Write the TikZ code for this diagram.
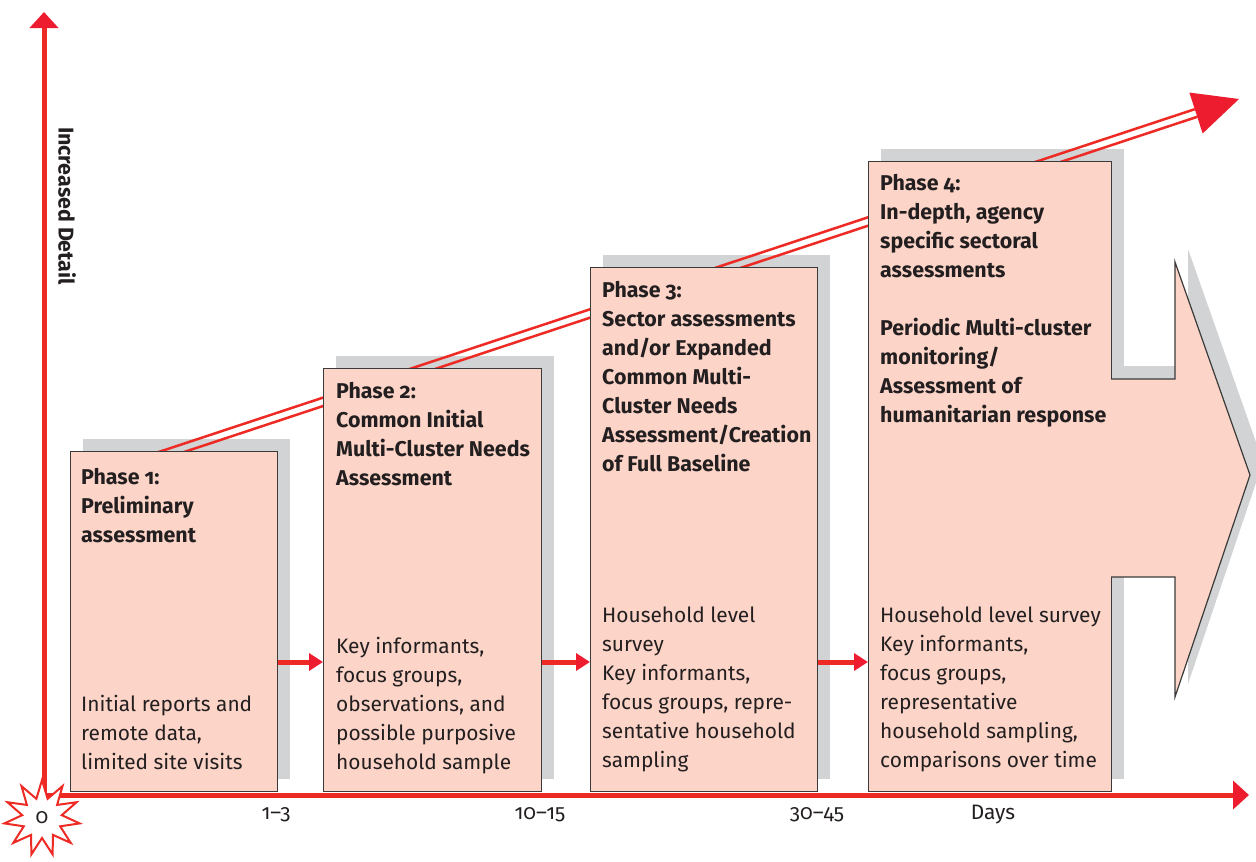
\documentclass[tikz,border=0pt]{standalone}
\usepackage{fontspec}
\setmainfont{Fira Sans}[Numbers=OldStyle]
\usetikzlibrary{arrows.meta,shapes.geometric,calc}

\definecolor{axisred}{HTML}{EE2A24}
\definecolor{tipred}{HTML}{ED1C2E}
\definecolor{boxpink}{HTML}{FDD5C8}
\definecolor{shadowgray}{HTML}{D1D3D4}
\definecolor{boxline}{HTML}{3A3A3A}
\definecolor{ink}{HTML}{231F20}

\tikzset{
  phasebox/.style={draw=boxline, line width=1.3pt, fill=boxpink, anchor=south west, inner sep=0pt},
  headtext/.style={anchor=north west, align=left, inner sep=0pt, text=ink,
    font=\fontsize{21.4}{29}\selectfont\bfseries, execute at begin node=\strut},
  basetext/.style={anchor=south west, align=left, inner sep=0pt, text=ink,
    font=\fontsize{20.9}{29}\selectfont, execute at end node=\strut},
  axisarrow/.style={axisred, line width=5pt, -{Triangle[length=16pt,width=28pt,color=tipred]}},
  hoparrow/.style={axisred, line width=5pt, -{Triangle[length=14pt,width=17pt,color=tipred]}},
  riseline/.style={axisred, line width=2.5pt},
  daylabel/.style={text=ink, font=\fontsize{20.9}{24}\selectfont},
}

\begin{document}
\begin{tikzpicture}[x=1pt,y=-1pt]
    \useasboundingbox (0,0) rectangle (1256,862);

    \fill[shadowgray] (83,439) rectangle (290,779);
    \fill[shadowgray] (336,356) rectangle (554,779);
    \fill[shadowgray] (603,255) rectangle (830,779);
    \fill[shadowgray] (881,149) rectangle (1124,779);
    \fill[shadowgray] (1124,366) -- (1188,366) -- (1188,249) -- (1263,462)
        -- (1188,684) -- (1188,564) -- (1124,564) -- cycle;

    \coordinate (origin) at (44,795);
    \coordinate (ytop) at (44,12);
    \coordinate (xend) at (1249,795);
    \draw[axisarrow] (origin) -- (ytop);
    \draw[axisarrow] (origin) -- (xend);

    \coordinate (riseA) at (120,469);
    \coordinate (riseB) at (1196,113);
    \coordinate (riseC) at (1239,99);
    \draw[riseline] ($(riseA)!4pt!90:(riseB)$) -- ($(riseB)!4pt!-90:(riseA)$);
    \draw[riseline] ($(riseA)!4pt!-90:(riseB)$) -- ($(riseB)!4pt!90:(riseA)$);
    \fill[tipred] (riseC) -- ($(riseB)!21.5pt!90:(riseC)$) -- ($(riseB)!21.5pt!-90:(riseC)$) -- cycle;

    \node[phasebox, minimum width=207pt, minimum height=340pt] (p1) at (70,792) {};
    \node[phasebox, minimum width=218pt, minimum height=423pt] (p2) at (323,792) {};
    \node[phasebox, minimum width=227pt, minimum height=524pt] (p3) at (590,792) {};
    \node[phasebox, minimum width=243pt, minimum height=630pt] (p4) at (868,792) {};
    \filldraw[draw=boxline, line width=1.2pt, fill=boxpink] (1111,379) -- (1175,379) -- (1175,262)
        -- (1250,475) -- (1175,697) -- (1175,577) -- (1111,577);

    \node[headtext] (h1) at ([shift={(11,17)}]p1.north west) {Phase 1:\\Preliminary\\assessment};
    \node[headtext] (h2) at ([shift={(13,14)}]p2.north west) {Phase 2:\\Common Initial\\Multi-Cluster Needs\\Assessment};
    \node[headtext] (h3) at ([shift={(12,14)}]p3.north west) {Phase 3:\\Sector assessments\\and/or Expanded\\Common Multi-\\Cluster Needs\\Assessment/Creation\\of Full Baseline};
    \node[headtext] (h4) at ([shift={(12,13)}]p4.north west) {Phase 4:\\In-depth, agency\\specific sectoral\\assessments\\[29pt]Periodic Multi-cluster\\monitoring/\\Assessment of\\humanitarian response};

    \node[basetext] (b1) at ([shift={(11,-14)}]p1.south west) {Initial reports and\\remote data,\\limited site visits};
    \node[basetext] (b2) at ([shift={(13,-14)}]p2.south west) {Key informants,\\focus groups,\\observations, and\\possible purposive\\household sample};
    \node[basetext] (b3) at ([shift={(12,-16)}]p3.south west) {Household level\\survey\\Key informants,\\focus groups, repre-\\sentative household\\sampling};
    \node[basetext] (b4) at ([shift={(12,-16)}]p4.south west) {Household level survey\\Key informants,\\focus groups,\\representative\\household sampling,\\comparisons over time};

    \coordinate (hop) at (0,662);
    \draw[hoparrow] (p1.east |- hop) -- (p2.west |- hop);
    \draw[hoparrow] (p2.east |- hop) -- (p3.west |- hop);
    \draw[hoparrow] (p3.east |- hop) -- (p4.west |- hop);

    \node[star, star points=11, star point ratio=1.9, minimum size=76pt, inner sep=0pt,
        draw=axisred, fill=white, line width=2pt, daylabel] (zero) at (42,818) {0};
    \node[daylabel] (d1) at (276,815) {1--3};
    \node[daylabel] (d2) at (540,815) {10--15};
    \node[daylabel] (d3) at (817,815) {30--45};
    \node[daylabel] (days) at (993,815) {Days};

    \node[rotate=-90, text=ink, font=\fontsize{21.4}{24}\selectfont\bfseries] (ylabel) at (67,206) {Increased Detail};
\end{tikzpicture}
\end{document}
